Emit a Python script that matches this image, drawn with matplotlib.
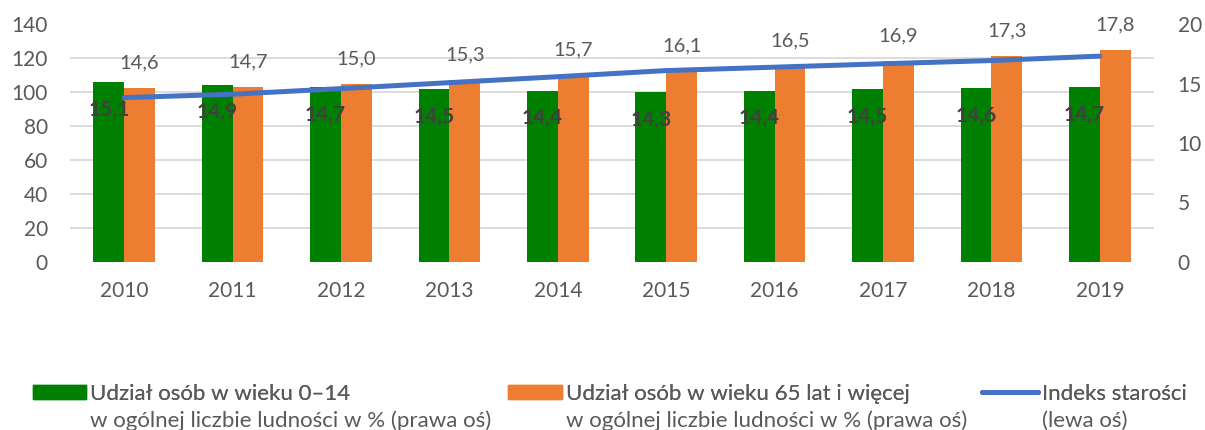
import numpy as np
import matplotlib
matplotlib.use("Agg")
from matplotlib import pyplot as plt
from matplotlib.patches import Patch
from matplotlib.lines import Line2D

years = ["2010", "2011", "2012", "2013", "2014", "2015", "2016", "2017", "2018", "2019"]
share_0_14 = [15.1, 14.9, 14.7, 14.5, 14.4, 14.3, 14.4, 14.5, 14.6, 14.7]
share_65_plus = [14.6, 14.7, 15.0, 15.3, 15.7, 16.1, 16.5, 16.9, 17.3, 17.8]
ageing_index = [96.7, 98.7, 102.0, 105.5, 109.0, 112.6, 114.6, 116.6, 118.5, 121.1]

GREEN = "#008000"
ORANGE = "#ED7D31"
BLUE = "#4472C4"
TEXT = "#595959"
LABEL_DARK = "#404040"
GRID = "#D9D9D9"

plt.rcParams["font.family"] = ["Lato", "DejaVu Sans"]
plt.rcParams["font.weight"] = "normal"

fig = plt.figure(figsize=(12.05, 4.3), dpi=100)
ax = fig.add_axes([70 / 1205, 168 / 430, 1084 / 1205, 238 / 430])
ax2 = ax.twinx()

x = np.arange(len(years))
w = 0.285

# bars on the right axis
g_bars = ax2.bar(x - w / 2, share_0_14, width=w, color=GREEN, zorder=2)
o_bars = ax2.bar(x + w / 2, share_65_plus, width=w, color=ORANGE, zorder=2)

for b, v in zip(g_bars, share_0_14):
    ax2.annotate(f"{v:.1f}".replace(".", ","), (b.get_x() + b.get_width() / 2, v),
                 xytext=(0, -20), textcoords="offset points", ha="center", va="center",
                 fontsize=15, fontweight="bold", color=LABEL_DARK, zorder=5)
for b, v in zip(o_bars, share_65_plus):
    ax2.annotate(f"{v:.1f}".replace(".", ","), (b.get_x() + b.get_width() / 2, v),
                 xytext=(0, 18), textcoords="offset points", ha="center", va="center",
                 fontsize=14.5, color=TEXT, zorder=5)

# line on the left axis, drawn above the bars
ax.set_zorder(ax2.get_zorder() + 1)
ax.patch.set_visible(False)
ax.plot(x, ageing_index, color=BLUE, lw=3.6, solid_capstyle="round", zorder=4)

ax.set_xlim(-0.5, len(years) - 0.5)
ax.set_ylim(0, 140)
ax.set_yticks(np.arange(0, 141, 20))
ax2.set_ylim(0, 20)
ax2.set_yticks(np.arange(0, 21, 5))
# gridlines follow the left axis ticks but sit behind the bars
ax2.set_yticks(np.linspace(0, 20, 8), minor=True)
ax2.yaxis.grid(True, which="minor", color=GRID, lw=1.3, zorder=0)
ax2.yaxis.grid(False, which="major")
ax2.set_axisbelow(True)
ax.set_xticks(x)
ax.set_xticklabels(years)

for a in (ax, ax2):
    for s in a.spines.values():
        s.set_visible(False)
ax.tick_params(axis="both", length=0, labelsize=15, labelcolor=TEXT)
ax.tick_params(axis="x", pad=14)
ax.tick_params(axis="y", pad=16)
ax2.tick_params(axis="y", which="both", length=0, labelsize=15, labelcolor=TEXT, pad=17)

# legend: one entry per block, second line added as text
fs = 16
entries = [
    (Patch(color=GREEN), "Udział osób w wieku 0–14", "w ogólnej liczbie ludności w % (prawa oś)", 33, 90),
    (Patch(color=ORANGE), "Udział osób w wieku 65 lat i więcej", "w ogólnej liczbie ludności w % (prawa oś)", 508, 566),
    (Line2D([], [], color=BLUE, lw=3.6, solid_capstyle="round"), "Indeks starości", "(lewa oś)", 982, 1042),
]
for handle, line1, line2, px, tx in entries:
    leg = fig.legend([handle], [line1], loc="center left",
                     bbox_to_anchor=(px / 1205, 1 - 394 / 430), frameon=False,
                     prop={"family": ["Lato", "DejaVu Sans"], "size": fs}, labelcolor=TEXT,
                     handlelength=(tx - px - 4) / 1.389 / fs, handleheight=0.63,
                     handletextpad=4 / 1.389 / fs, borderpad=0, borderaxespad=0)
    fig.add_artist(leg)
    fig.text(tx / 1205, 1 - 421 / 430, line2, fontsize=fs, color=TEXT,
             ha="left", va="center")

fig.savefig("out.png", dpi=100)
